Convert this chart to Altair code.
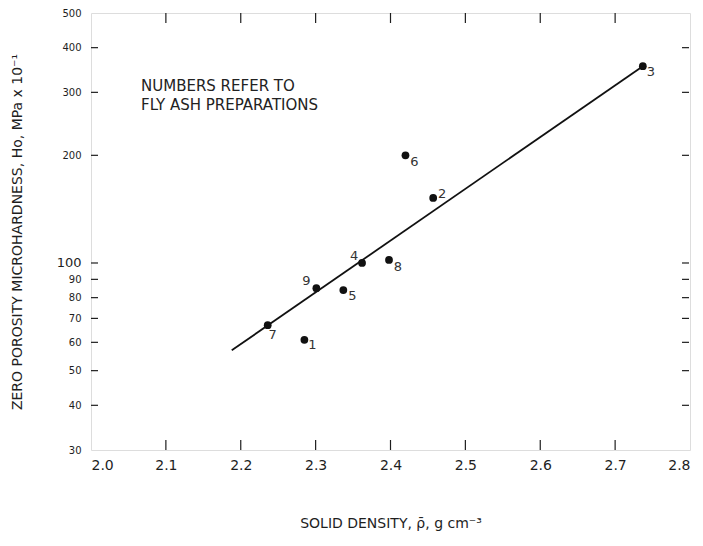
import altair as alt
import pandas as pd

# --- data ---
prep_ids = ["1", "2", "3", "4", "5", "6", "7", "8", "9"]
density = [2.285, 2.457, 2.737, 2.362, 2.337, 2.420, 2.236, 2.398, 2.301]
hardness = [61, 152, 355, 100, 84, 200, 67, 102, 85]

fit_x = [2.188, 2.737]
fit_y = [57, 355]

x_tick_values = [2.0, 2.1, 2.2, 2.3, 2.4, 2.5, 2.6, 2.7, 2.8]
y_tick_values = [30, 40, 50, 60, 70, 80, 90, 100, 200, 300, 400, 500]
x_inner_ticks = [2.1, 2.2, 2.3, 2.4, 2.5, 2.6, 2.7]
y_inner_ticks = [40, 50, 60, 70, 80, 90, 100, 200, 300, 400]

note_lines = ["NUMBERS REFER TO", "FLY ASH PREPARATIONS"]

# --- styling ---
W, H = 599, 437
INK = "#1e1e1e"
FONT = "DejaVu Sans"

# label offsets (dx, dy) per preparation
label_offsets = {
    "1": (8, 5), "2": (9, -4), "3": (8, 6), "4": (-8, -7), "5": (9, 6),
    "6": (9, 7), "7": (5, 10), "8": (9, 7), "9": (-10, -7),
}
note_y = [73, 92]

pts = pd.DataFrame({"id": prep_ids, "density": density, "hardness": hardness})
fit = pd.DataFrame({"density": fit_x, "hardness": fit_y})
xt = pd.DataFrame({"v": x_inner_ticks})
yt = pd.DataFrame({"v": y_inner_ticks})

xscale = alt.Scale(domain=[2.0, 2.8], nice=False, zero=False)
yscale = alt.Scale(type="log", domain=[30, 500], nice=False)

xenc = alt.X("density:Q", scale=xscale,
             axis=alt.Axis(values=x_tick_values, format=".1f", title="SOLID DENSITY,  ρ̄,  g cm⁻³",
                           grid=False, ticks=False, domain=False, labelFontSize=14,
                           labelPadding=8, labelColor=INK, labelFont=FONT,
                           titleFontSize=14, titleFont=FONT, titleColor=INK,
                           titleFontWeight="normal", titlePadding=44))
yenc = alt.Y("hardness:Q", scale=yscale,
             axis=alt.Axis(values=y_tick_values, format="d",
                           title="ZERO POROSITY MICROHARDNESS,  Ho,  MPa x 10⁻¹",
                           grid=False, ticks=False, domain=False,
                           labelFontSize={"condition": {"test": "datum.value == 100", "value": 13},
                                          "value": 10},
                           labelPadding=10, labelColor=INK, labelFont=FONT,
                           titleFontSize=14, titleFont=FONT, titleColor=INK,
                           titleFontWeight="normal", titlePadding=32))

line = alt.Chart(fit).mark_line(color="#111", strokeWidth=1.8).encode(x=xenc, y=yenc)
dots = alt.Chart(pts).mark_point(filled=True, size=60, color="#111", opacity=1).encode(
    x=alt.X("density:Q", scale=xscale), y=alt.Y("hardness:Q", scale=yscale))

label_layers = []
for pid, (dx, dy) in label_offsets.items():
    label_layers.append(
        alt.Chart(pts).transform_filter(alt.datum.id == pid)
        .mark_text(dx=dx, dy=dy, fontSize=13, font=FONT, color="#333")
        .encode(x=alt.X("density:Q", scale=xscale),
                y=alt.Y("hardness:Q", scale=yscale), text="id:N"))

bottom_ticks = alt.Chart(xt).mark_rule(color=INK, strokeWidth=1.2).encode(
    x=alt.X("v:Q", scale=xscale), y=alt.value(H), y2=alt.value(H - 10))
top_ticks = alt.Chart(xt).mark_rule(color=INK, strokeWidth=1.2).encode(
    x=alt.X("v:Q", scale=xscale), y=alt.value(0), y2=alt.value(10))
left_ticks = alt.Chart(yt).mark_rule(color=INK, strokeWidth=1.2).encode(
    y=alt.Y("v:Q", scale=yscale), x=alt.value(0), x2=alt.value(7))
right_ticks = alt.Chart(yt).mark_rule(color=INK, strokeWidth=1.2).encode(
    y=alt.Y("v:Q", scale=yscale), x=alt.value(W - 1), x2=alt.value(W - 8))

note_layers = []
for text, yy in zip(note_lines, note_y):
    note_layers.append(
        alt.Chart(pd.DataFrame({"t": [text]})).mark_text(
            align="left", baseline="middle", fontSize=15, font=FONT, color="#222"
        ).encode(text="t:N", x=alt.value(50), y=alt.value(yy)))

chart = alt.layer(line, bottom_ticks, top_ticks, left_ticks, right_ticks, *note_layers, dots,
                  *label_layers).properties(
    width=W, height=H,
    autosize=alt.AutoSizeParams(type="none"),
    padding={"left": 83, "top": 5, "right": 5, "bottom": 88},
).configure_view(stroke=INK, strokeWidth=1.8).configure(background="white")

chart.save("out.html", embed_options={"renderer": "svg", "actions": False})
